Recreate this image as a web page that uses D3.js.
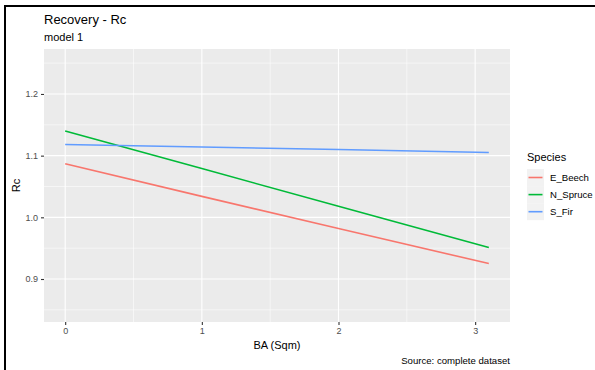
<!DOCTYPE html>
<html>
<head>
<meta charset="utf-8">
<script src="https://d3js.org/d3.v7.min.js"></script>
<style>
    body { margin: 0; background: #ffffff; }
    svg { display: block; font-family: "Liberation Sans", Arial, sans-serif; }
</style>
</head>
<body>
<div id="chartDiv"></div>
<script>
// Data
var species = ["E_Beech", "N_Spruce", "S_Fir"];
var colors = ["#F8766D", "#00BA38", "#619CFF"];
var baValues = [0, 1, 2, 3.1];
var beechRc = [1.087, 1.034, 0.982, 0.925];
var spruceRc = [1.140, 1.079, 1.018, 0.951];
var firRc = [1.118, 1.114, 1.110, 1.105];
var xTicks = [0, 1, 2, 3];
var yTicks = [0.9, 1.0, 1.1, 1.2];

var series = [
    { name: species[0], values: beechRc },
    { name: species[1], values: spruceRc },
    { name: species[2], values: firRc }
];

const canvas = { width: 595, height: 370 };
const panel = { left: 44, right: 510, top: 49, bottom: 322 };

var svg = d3.select("#chartDiv")
    .append("svg")
    .attr("width", canvas.width)
    .attr("height", canvas.height);

// Scales (ggplot expanded ranges)
var x = d3.scaleLinear()
    .domain([-0.155, 3.255])
    .range([panel.left, panel.right]);
var y = d3.scaleLinear()
    .domain([0.8303, 1.2729])
    .range([panel.bottom, panel.top]);
var c = d3.scaleOrdinal()
    .domain(species)
    .range(colors);

// Panel background
svg.append("rect")
    .attr("x", panel.left)
    .attr("y", panel.top)
    .attr("width", panel.right - panel.left)
    .attr("height", panel.bottom - panel.top)
    .style("fill", "#EBEBEB");

// Minor grid lines
var xMinor = [-0.5, 0.5, 1.5, 2.5, 3.5].filter(function(d) { return x(d) > panel.left && x(d) < panel.right; });
var yMinor = [0.85, 0.95, 1.05, 1.15, 1.25];

svg.append("g").selectAll("line")
    .data(xMinor)
    .enter().append("line")
    .attr("x1", function(d) { return x(d); })
    .attr("x2", function(d) { return x(d); })
    .attr("y1", panel.top)
    .attr("y2", panel.bottom)
    .style("stroke", "#ffffff")
    .style("stroke-width", 0.55);

svg.append("g").selectAll("line")
    .data(yMinor)
    .enter().append("line")
    .attr("x1", panel.left)
    .attr("x2", panel.right)
    .attr("y1", function(d) { return y(d); })
    .attr("y2", function(d) { return y(d); })
    .style("stroke", "#ffffff")
    .style("stroke-width", 0.55);

// Major grid lines
svg.append("g").selectAll("line")
    .data(xTicks)
    .enter().append("line")
    .attr("x1", function(d) { return x(d); })
    .attr("x2", function(d) { return x(d); })
    .attr("y1", panel.top)
    .attr("y2", panel.bottom)
    .style("stroke", "#ffffff")
    .style("stroke-width", 1.1);

svg.append("g").selectAll("line")
    .data(yTicks)
    .enter().append("line")
    .attr("x1", panel.left)
    .attr("x2", panel.right)
    .attr("y1", function(d) { return y(d); })
    .attr("y2", function(d) { return y(d); })
    .style("stroke", "#ffffff")
    .style("stroke-width", 1.1);

// Axes
var xAxis = svg.append("g")
    .attr("transform", "translate(0," + panel.bottom + ")")
    .call(d3.axisBottom(x).tickValues(xTicks).tickSize(3).tickPadding(3).tickFormat(d3.format("d")));
var yAxis = svg.append("g")
    .attr("transform", "translate(" + panel.left + ",0)")
    .call(d3.axisLeft(y).tickValues(yTicks).tickSize(3).tickPadding(3).tickFormat(d3.format(".1f")));

[xAxis, yAxis].forEach(function(a) {
    a.select(".domain").remove();
    a.selectAll("line").style("stroke", "#333333").style("stroke-width", 1.1);
    a.selectAll("text")
        .style("fill", "#4D4D4D")
        .style("font-size", "9px")
        .style("font-family", "'Liberation Sans', Arial, sans-serif");
});

// Lines
var line = d3.line()
    .x(function(d, i) { return x(baValues[i]); })
    .y(function(d) { return y(d); });

svg.append("g").selectAll("path")
    .data(series)
    .enter().append("path")
    .attr("d", function(d) { return line(d.values); })
    .style("fill", "none")
    .style("stroke", function(d) { return c(d.name); })
    .style("stroke-width", 1.6);

// Titles
svg.append("text")
    .attr("x", panel.left)
    .attr("y", 24)
    .style("font-size", "13px")
    .style("fill", "#000000")
    .text("Recovery - Rc");

svg.append("text")
    .attr("x", panel.left)
    .attr("y", 41)
    .style("font-size", "11px")
    .style("fill", "#000000")
    .text("model 1");

svg.append("text")
    .attr("x", (panel.left + panel.right) / 2)
    .attr("y", 349)
    .style("text-anchor", "middle")
    .style("font-size", "11px")
    .text("BA (Sqm)");

svg.append("text")
    .attr("transform", "translate(20," + ((panel.top + panel.bottom) / 2) + ") rotate(-90)")
    .style("text-anchor", "middle")
    .style("font-size", "11px")
    .text("Rc");

svg.append("text")
    .attr("x", panel.right)
    .attr("y", 364)
    .style("text-anchor", "end")
    .style("font-size", "9.6px")
    .text("Source: complete dataset");

// Legend
svg.append("text")
    .attr("x", 527)
    .attr("y", 161)
    .style("font-size", "11px")
    .text("Species");

var legend = svg.selectAll(".legend")
    .data(species)
    .enter().append("g")
    .attr("class", "legend")
    .attr("transform", function(d, i) { return "translate(527," + (169 + i * 17.1) + ")"; });

legend.append("rect")
    .attr("width", 17)
    .attr("height", 17)
    .style("fill", "#F2F2F2");

legend.append("line")
    .attr("x1", 1.5)
    .attr("x2", 15.5)
    .attr("y1", 8.5)
    .attr("y2", 8.5)
    .style("stroke", function(d) { return c(d); })
    .style("stroke-width", 1.6);

legend.append("text")
    .attr("x", 23)
    .attr("y", 12)
    .style("font-size", "9.6px")
    .text(function(d) { return d; });

// Frame lines on the left and top edges
svg.append("line")
    .attr("x1", 5).attr("x2", 5)
    .attr("y1", 5).attr("y2", canvas.height)
    .style("stroke", "#000000")
    .style("stroke-width", 2);
svg.append("line")
    .attr("x1", 4).attr("x2", canvas.width)
    .attr("y1", 6).attr("y2", 6)
    .style("stroke", "#000000")
    .style("stroke-width", 2);
</script>
</body>
</html>
